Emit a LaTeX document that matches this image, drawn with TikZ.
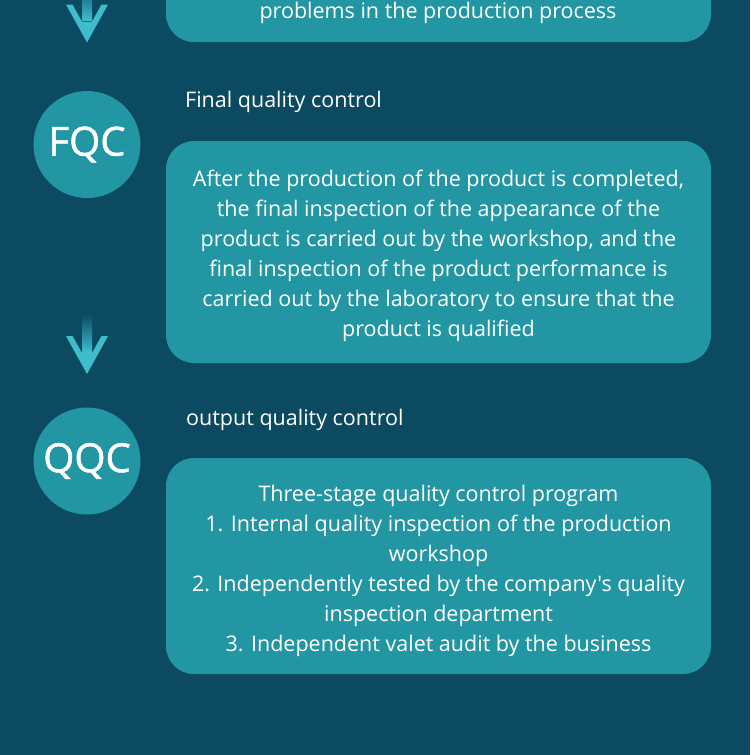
\documentclass[tikz,border=0pt]{standalone}
\usepackage{fontspec}
\setmainfont{Open Sans}[Ligatures=TeXOff]
\newfontfamily\badgefont{Open Sans}[FakeBold=1.2]
\usetikzlibrary{shapes.geometric}
\definecolor{bg}{HTML}{0B4A61}
\definecolor{boxc}{HTML}{2396A3}
\definecolor{arrc}{HTML}{40BDCD}
\tikzset{
  infobox/.style={fill=boxc, rounded corners=28pt},
  boxtext/.style={text=white, align=center, font=\fontsize{21.5}{30}\selectfont, inner sep=0pt},
  badge/.style={circle, fill=boxc, minimum size=107pt, inner sep=0pt, text=white, font=\badgefont\fontsize{40}{44}\selectfont},
  heading/.style={text=white, anchor=base west, inner sep=0pt, font=\fontsize{21.5}{24}\selectfont},
}
\newcommand{\downarrowmark}[1]{% #1 = tip coordinate name
  \shade[top color=bg, bottom color=arrc, shading angle=0]
    ([shift={(-5,-60)}]#1) rectangle ([shift={(5,-22)}]#1);
  \fill[arrc] (#1) -- ++(-21,-38) -- ++(6.5,0) -- ++(9.5,17) -- ++(10,0) -- ++(9.5,-17) -- ++(6.5,0) -- cycle;
}
\begin{document}
\begin{tikzpicture}[x=1pt,y=-1pt]
\fill[bg] (0,0) rectangle (750,755);
\useasboundingbox (0,0) rectangle (750,755);

% top box (cut off)
\fill[infobox] (166,-40) rectangle (711,42);
\node[boxtext] (toptext) at (438,13) {problems in the production process};
\coordinate (tip1) at (87,42.5);
\downarrowmark{tip1}

% FQC
\node[badge] (fqc) at (87,144.5) {FQC};
\node[heading] (fqch) at (185,107) {Final quality control};
\fill[infobox] (166,141) rectangle (711,363);
\node[boxtext] (fqct) at (438.5,256) {After the production of the product is completed,\\
the final inspection of the appearance of the\\
product is carried out by the workshop, and the\\
final inspection of the product performance is\\
carried out by the laboratory to ensure that the\\
product is qualified};
\coordinate (tip2) at (87,374);
\downarrowmark{tip2}

% QQC
\node[badge] (qqc) at (87,461) {QQC};
\node[heading] (qqch) at (186,425) {output quality control};
\fill[infobox] (166,458) rectangle (711,674);
\node[boxtext] (qqct) at (438.5,571) {Three-stage quality control program\\
1. Internal quality inspection of the production\\
workshop\\
2. Independently tested by the company's quality\\
inspection department\\
3. Independent valet audit by the business};
\end{tikzpicture}
\end{document}
